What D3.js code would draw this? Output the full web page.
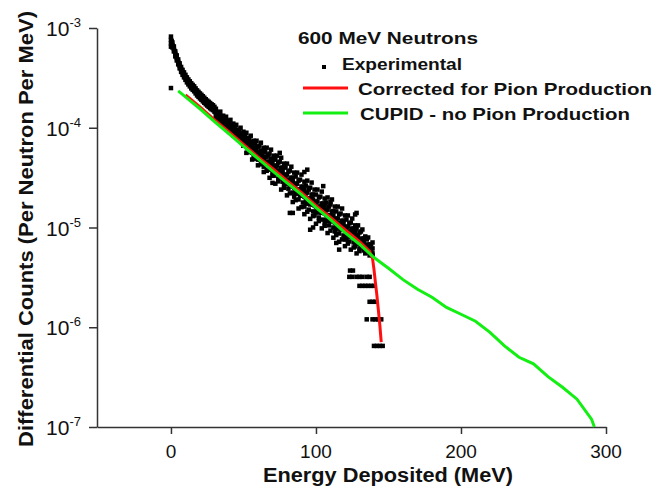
<!DOCTYPE html>
<html>
<head>
<meta charset="utf-8">
<script src="https://cdn.jsdelivr.net/npm/d3@7"></script>
<style>
  body { margin: 0; background: #fff; }
  text { font-family: "Liberation Sans", Arial, sans-serif; fill: #111; }
</style>
</head>
<body>
<svg id="chart" width="659" height="487"></svg>
<script>
// ---- data ----
// experimental, steep start: [energy, value, value, ...]
const expHead = [
  [0, 8.2e-4, 7.6e-4, 7.0e-4, 6.5e-4],
  [0.5, 7.41e-4, 7.0e-4, 6.61e-4], [1, 7.16e-4, 6.76e-4, 6.38e-4], [1.5, 6.46e-4],
  [2, 6.53e-4, 6.17e-4, 5.82e-4], [2.5, 5.89e-4], [3, 5.82e-4, 5.5e-4, 5.19e-4], [3.5, 5.25e-4],
  [4, 5.31e-4, 5.01e-4, 4.73e-4], [4.5, 4.79e-4], [5, 4.84e-4, 4.57e-4, 4.32e-4], [5.5, 4.37e-4],
  [6, 4.42e-4, 4.17e-4, 3.94e-4], [6.5, 3.98e-4], [7, 4.07e-4, 3.85e-4, 3.63e-4], [7.5, 3.72e-4],
  [8, 3.8e-4, 3.59e-4, 3.39e-4], [8.5, 3.47e-4], [9, 3.59e-4, 3.39e-4, 3.2e-4], [9.5, 3.31e-4],
  [10, 3.39e-4, 3.2e-4, 3.02e-4], [10.5, 3.09e-4], [11, 3.2e-4, 3.02e-4, 2.85e-4], [11.5, 2.95e-4],
  [12, 3.05e-4, 2.88e-4, 2.72e-4], [13, 2.92e-4, 2.75e-4, 2.6e-4], [14, 2.79e-4, 2.63e-4, 2.48e-4],
  [15, 2.69e-4, 2.54e-4, 2.4e-4], [16, 2.6e-4, 2.45e-4, 2.32e-4], [17, 2.48e-4, 2.34e-4, 2.21e-4],
  [18, 2.37e-4, 2.24e-4, 2.11e-4], [19, 2.29e-4, 2.16e-4, 2.04e-4], [20, 2.21e-4, 2.09e-4, 1.97e-4],
  [21, 2.14e-4, 2.02e-4, 1.91e-4], [22, 2.07e-4, 1.95e-4, 1.84e-4], [23, 2.0e-4, 1.88e-4, 1.78e-4],
  [24, 1.93e-4, 1.82e-4, 1.72e-4], [25, 1.87e-4, 1.77e-4, 1.67e-4], [26, 1.82e-4, 1.72e-4, 1.62e-4],
  [27, 1.77e-4, 1.67e-4, 1.57e-4], [28, 1.72e-4, 1.62e-4, 1.53e-4], [29, 1.68e-4, 1.58e-4, 1.5e-4],
  [30, 1.62e-4, 1.53e-4, 1.45e-4]
];

// experimental, scattered band
const expBand = [
  [31, 1.55e-4, 1.41e-4, 1.35e-4, 1.26e-4], [32, 1.41e-4, 1.35e-4, 1.26e-4, 1.23e-4],
  [33, 1.41e-4, 1.32e-4, 1.26e-4, 1.17e-4], [34, 1.45e-4, 1.32e-4, 1.23e-4, 1.15e-4],
  [35, 1.29e-4, 1.26e-4, 1.15e-4, 1.12e-4], [36, 1.32e-4, 1.17e-4, 1.07e-4, 1.07e-4],
  [37, 1.26e-4, 1.07e-4, 1.17e-4, 1.05e-4], [38, 1.29e-4, 1.15e-4, 1.05e-4, 1.02e-4],
  [39, 1.17e-4, 1.07e-4, 9.77e-5, 9.77e-5], [40, 1.17e-4, 1.05e-4, 1.0e-4, 9.55e-5],
  [41, 1.2e-4, 1.07e-4, 9.77e-5, 9.33e-5], [42, 1.05e-4, 1.0e-4, 8.91e-5, 9.12e-5],
  [43, 1.1e-4, 9.33e-5, 8.32e-5, 8.71e-5], [44, 1.02e-4, 8.51e-5, 9.55e-5, 8.91e-5],
  [45, 1.07e-4, 9.33e-5, 8.32e-5, 8.13e-5], [46, 9.55e-5, 8.71e-5, 7.76e-5, 7.94e-5],
  [47, 9.55e-5, 8.51e-5, 7.94e-5, 7.76e-5], [48, 1.0e-4, 8.71e-5, 7.94e-5, 7.59e-5],
  [49, 8.71e-5, 8.13e-5, 7.08e-5, 7.24e-5], [50, 9.12e-5, 7.59e-5, 6.61e-5, 7.08e-5],
  [51, 8.51e-5, 6.76e-5, 7.76e-5, 6.92e-5], [52, 8.91e-5, 7.59e-5, 6.61e-5, 7.08e-5],
  [53, 7.76e-5, 6.92e-5, 6.03e-5, 6.46e-5], [54, 7.94e-5, 6.92e-5, 6.31e-5, 6.03e-5],
  [55, 8.32e-5, 7.08e-5, 6.31e-5, 6.03e-5], [56, 7.08e-5, 6.61e-5, 5.62e-5, 5.89e-5],
  [57, 7.41e-5, 6.03e-5, 5.13e-5, 5.75e-5], [58, 6.92e-5, 5.37e-5, 6.31e-5, 5.62e-5],
  [59, 7.41e-5, 6.17e-5, 5.25e-5, 5.37e-5], [60, 6.46e-5, 5.62e-5, 4.79e-5, 5.25e-5],
  [61, 6.61e-5, 5.62e-5, 5.13e-5, 4.9e-5], [62, 7.08e-5, 5.89e-5, 5.01e-5, 5.37e-5],
  [63, 5.89e-5, 5.37e-5, 4.47e-5, 4.79e-5], [64, 6.31e-5, 4.9e-5, 4.07e-5, 4.68e-5],
  [65, 5.75e-5, 4.27e-5, 5.13e-5, 4.57e-5], [66, 6.31e-5, 5.13e-5, 4.27e-5, 4.47e-5],
  [67, 5.37e-5, 4.57e-5, 3.8e-5, 4.37e-5], [68, 5.5e-5, 4.57e-5, 4.17e-5, 3.98e-5],
  [69, 6.03e-5, 4.9e-5, 4.07e-5, 4.37e-5], [70, 4.9e-5, 4.47e-5, 3.55e-5, 3.98e-5],
  [71, 5.25e-5, 3.98e-5, 3.31e-5, 3.89e-5], [72, 4.79e-5, 3.47e-5, 4.17e-5, 3.8e-5],
  [73, 5.25e-5, 4.17e-5, 3.47e-5, 3.63e-5], [74, 4.47e-5, 3.72e-5, 3.09e-5, 3.55e-5],
  [75, 4.57e-5, 3.72e-5, 3.31e-5, 3.39e-5], [76, 5.01e-5, 3.98e-5, 3.31e-5, 3.55e-5],
  [77, 3.98e-5, 3.63e-5, 2.88e-5, 3.24e-5], [78, 4.37e-5, 3.24e-5, 2.63e-5, 3.16e-5],
  [79, 3.98e-5, 2.75e-5, 3.39e-5, 3.02e-5], [80, 4.37e-5, 3.39e-5, 2.75e-5, 2.95e-5],
  [81, 3.63e-5, 3.02e-5, 2.45e-5, 2.88e-5], [82, 3.72e-5, 3.02e-5, 2.63e-5, 2.75e-5],
  [83, 4.07e-5, 3.16e-5, 2.63e-5, 2.69e-5], [84, 3.16e-5, 2.88e-5, 2.24e-5, 2.57e-5],
  [85, 3.55e-5, 2.57e-5, 2.04e-5, 2.51e-5], [86, 3.24e-5, 2.19e-5, 2.75e-5, 2.45e-5],
  [87, 3.55e-5, 2.75e-5, 2.19e-5, 2.34e-5], [88, 2.95e-5, 2.4e-5, 1.91e-5, 2.29e-5],
  [89, 3.02e-5, 2.4e-5, 2.09e-5, 2.19e-5], [90, 3.39e-5, 2.57e-5, 2.09e-5, 2.14e-5],
  [91, 2.57e-5, 2.34e-5, 1.78e-5, 2.09e-5], [92, 2.88e-5, 2.04e-5, 1.62e-5, 2.4e-5],
  [93, 2.63e-5, 1.74e-5, 2.19e-5, 1.95e-5], [94, 2.95e-5, 2.24e-5, 1.74e-5, 1.91e-5],
  [95, 2.4e-5, 1.95e-5, 1.51e-5, 1.86e-5], [96, 2.51e-5, 1.95e-5, 1.7e-5, 1.82e-5],
  [97, 2.82e-5, 2.14e-5, 1.74e-5, 1.95e-5], [98, 2.14e-5, 1.91e-5, 1.45e-5, 1.7e-5],
  [99, 2.4e-5, 1.7e-5, 1.32e-5, 1.66e-5], [100, 2.14e-5, 1.41e-5, 1.82e-5, 1.62e-5],
  [101, 2.4e-5, 1.82e-5, 1.45e-5, 1.58e-5], [102, 2.0e-5, 1.62e-5, 1.26e-5, 1.55e-5],
  [103, 2.04e-5, 1.62e-5, 1.41e-5, 1.48e-5], [104, 2.29e-5, 1.74e-5, 1.41e-5, 1.55e-5],
  [105, 1.74e-5, 1.58e-5, 1.2e-5, 1.41e-5], [106, 1.95e-5, 1.38e-5, 1.1e-5, 1.66e-5],
  [107, 1.78e-5, 1.17e-5, 1.51e-5, 1.35e-5], [108, 2.0e-5, 1.51e-5, 1.17e-5, 1.29e-5],
  [109, 1.62e-5, 1.32e-5, 1.05e-5, 1.26e-5], [110, 1.7e-5, 1.32e-5, 1.15e-5, 1.23e-5],
  [111, 1.91e-5, 1.45e-5, 1.17e-5, 1.29e-5], [112, 1.45e-5, 1.32e-5, 1.0e-5, 1.17e-5],
  [113, 1.62e-5, 1.15e-5, 9.12e-6, 1.12e-5], [114, 1.45e-5, 9.77e-6, 1.23e-5, 1.1e-5],
  [115, 1.62e-5, 1.23e-5, 9.77e-6, 1.07e-5], [116, 1.35e-5, 1.1e-5, 8.71e-6, 1.05e-5],
  [117, 1.38e-5, 1.1e-5, 9.55e-6, 1.02e-5], [118, 1.55e-5, 1.17e-5, 9.77e-6, 1.05e-5],
  [119, 1.17e-5, 1.07e-5, 8.32e-6, 9.55e-6], [120, 1.32e-5, 9.55e-6, 7.59e-6, 9.33e-6],
  [121, 1.2e-5, 8.13e-6, 1.02e-5, 9.12e-6], [122, 1.32e-5, 1.02e-5, 8.13e-6, 8.91e-6],
  [123, 1.1e-5, 9.12e-6, 7.24e-6, 8.51e-6], [124, 1.12e-5, 9.12e-6, 8.13e-6, 8.32e-6],
  [125, 1.23e-5, 9.77e-6, 8.13e-6, 8.71e-6], [126, 9.77e-6, 8.91e-6, 7.08e-6, 7.94e-6],
  [127, 1.05e-5, 7.94e-6, 6.46e-6, 9.12e-6], [128, 9.77e-6, 6.92e-6, 8.32e-6, 7.59e-6],
  [129, 1.05e-5, 8.32e-6, 6.92e-6, 7.24e-6], [130, 8.91e-6, 7.59e-6, 6.17e-6, 7.08e-6],
  [131, 9.12e-6, 7.41e-6, 6.76e-6, 6.92e-6], [132, 9.55e-6, 7.76e-6, 6.76e-6, 6.61e-6],
  [133, 7.76e-6, 7.24e-6, 5.89e-6, 6.46e-6], [134, 8.13e-6, 6.46e-6, 5.5e-6, 6.17e-6],
  [135, 7.59e-6, 5.75e-6, 6.76e-6, 6.03e-6], [136, 7.94e-6, 6.61e-6, 5.75e-6, 5.89e-6],
  [137, 6.76e-6, 6.03e-6, 5.25e-6, 5.62e-6], [138, 6.76e-6, 6.03e-6, 5.5e-6, 5.75e-6],
  [139, 7.08e-6, 6.17e-6, 5.5e-6, 5.25e-6]
];

// experimental points on the low side of the band: [energy, value]
const expLower = [
  [50, 6.6e-5], [52, 5.6e-5], [54, 5.7e-5], [56, 4.8e-5], [58, 4.9e-5], [60, 4.2e-5], [62, 4.3e-5],
  [64, 3.6e-5], [66, 3.7e-5], [68, 3.15e-5], [70, 3.3e-5], [72, 2.75e-5], [74, 2.9e-5], [76, 2.4e-5],
  [78, 2.5e-5], [80, 2.1e-5], [82, 2.2e-5], [84, 1.8e-5], [86, 1.88e-5], [88, 1.55e-5], [90, 1.6e-5],
  [92, 1.36e-5], [94, 1.44e-5], [96, 1.22e-5], [98, 1.3e-5], [100, 1.09e-5], [102, 1.16e-5],
  [104, 9.8e-6], [106, 1.04e-5], [108, 8.8e-6], [110, 9.3e-6], [112, 7.9e-6], [114, 8.4e-6],
  [116, 7.2e-6], [118, 7.6e-6], [120, 6.5e-6], [122, 6.9e-6], [124, 6.0e-6], [126, 6.3e-6],
  [128, 5.5e-6], [130, 5.8e-6]
];

// isolated experimental points: [energy, value]
const expOutliers = [
  [0, 2.5e-4], [56, 7.2e-5], [70, 2.8e-5], [75, 5.6e-5], [82, 1.4e-5], [84, 1.4e-5],
  [92, 3.6e-5], [94, 3.8e-5], [96, 9.5e-6], [98, 1.0e-5], [105, 2.6e-5], [110, 1.8e-5],
  [114, 7.0e-6], [116, 6.0e-6], [121, 7.6e-6], [127, 1.35e-5], [128, 1.4e-5]
];

// low-count tail (count levels): [energy, value]
const expTail = [
  [123.5, 3.7e-6], [125.5, 3.7e-6],
  [123, 3.2e-6], [125, 3.2e-6], [128, 3.2e-6], [130, 3.2e-6], [132, 3.2e-6], [135, 3.2e-6], [137, 3.2e-6],
  [130, 2.6e-6], [132, 2.6e-6], [134, 2.6e-6], [136, 2.6e-6], [138, 2.6e-6], [140, 2.6e-6],
  [137, 1.8e-6], [139, 1.8e-6], [141, 1.8e-6],
  [135, 1.2e-6], [139, 1.2e-6], [141, 1.2e-6], [143, 1.2e-6], [145, 1.2e-6],
  [140, 6.5e-7], [142, 6.5e-7], [144, 6.5e-7], [146, 6.5e-7]
];

// Corrected for Pion Production (red)
const corrE = [10, 20, 30, 40, 50, 60, 70, 80, 90, 100, 110, 120, 130, 137, 139, 140, 141, 142, 143, 144, 145];
const corrV = [2.14e-4, 1.62e-4, 1.2e-4, 9.1e-5, 6.8e-5, 5.1e-5, 3.9e-5, 2.95e-5, 2.24e-5, 1.66e-5, 1.26e-5,
  9.5e-6, 7.2e-6, 5.75e-6, 4.9e-6, 3.8e-6, 2.8e-6, 2.1e-6, 1.5e-6, 1.07e-6, 7.1e-7];

// CUPID - no Pion Production (green)
const cupidE = [5, 10, 20, 30, 40, 50, 60, 70, 80, 90, 100, 110, 120, 130, 140, 150, 160, 170, 180, 190,
  200, 210, 220, 230, 240, 250, 260, 270, 280, 290, 292];
const cupidV = [2.34e-4, 2.04e-4, 1.55e-4, 1.15e-4, 8.7e-5, 6.5e-5, 4.9e-5, 3.7e-5, 2.8e-5, 2.14e-5, 1.58e-5,
  1.2e-5, 8.9e-6, 6.8e-6, 5.0e-6, 3.9e-6, 3.0e-6, 2.4e-6, 2.0e-6, 1.58e-6, 1.35e-6, 1.15e-6, 8.9e-7,
  6.5e-7, 5.0e-7, 4.3e-7, 3.2e-7, 2.5e-7, 1.9e-7, 1.2e-7, 1.0e-7];

const xTicks = [0, 100, 200, 300];
const xMinorTicks = [50, 150, 250];
const yExponents = [-3, -4, -5, -6, -7];

const legendTitle = "600 MeV Neutrons";
const legendLabels = ["Experimental", "Corrected for Pion Production", "CUPID - no Pion Production"];
const colors = { exp: "#000", corr: "#ff1010", cupid: "#13ee13" };

// ---- drawing ----
const svg = d3.select("#chart");

const x = d3.scaleLinear().domain([-51, 300]).range([97, 606]);
const y = d3.scaleLog().domain([1e-7, 1e-3]).range([427, 28]);

// axes
const yMajor = yExponents.map((e) => Math.pow(10, e));
const yMinor = y.ticks().filter((t) => !yMajor.some((m) => Math.abs(t / m - 1) < 1e-6));

const yAxisG = svg.append("g").attr("transform", "translate(97,0)");
yAxisG.call(d3.axisLeft(y).tickValues(yMinor).tickSize(4).tickSizeOuter(0).tickFormat(""));
yAxisG.call(d3.axisLeft(y).tickValues(yMajor).tickSize(8).tickSizeOuter(0).tickFormat(""));

const xAxisG = svg.append("g").attr("transform", "translate(0,427)");
xAxisG.call(d3.axisBottom(x).tickValues(xMinorTicks).tickSize(4).tickSizeOuter(0).tickFormat(""));
xAxisG.call(d3.axisBottom(x).tickValues(xTicks).tickSize(7).tickSizeOuter(0).tickFormat(""));

svg.selectAll(".domain, .tick line").attr("stroke", "#333").attr("stroke-width", 1.5);

// tick labels
svg.append("g").selectAll("text").data(xTicks).join("text")
  .attr("x", (d) => x(d))
  .attr("y", 458)
  .attr("text-anchor", "middle")
  .attr("font-size", 19)
  .text((d) => d);

const yLab = svg.append("g").selectAll("text").data(yExponents).join("text")
  .attr("x", 81)
  .attr("y", (d) => y(Math.pow(10, d)) + 8)
  .attr("text-anchor", "end")
  .attr("font-size", 21);
yLab.append("tspan").text("10");
yLab.append("tspan").attr("font-size", 13).attr("dy", -9).text((d) => "-" + Math.abs(d));

// axis titles
svg.append("text")
  .attr("x", 388)
  .attr("y", 482)
  .attr("text-anchor", "middle")
  .attr("font-size", 20)
  .attr("font-weight", "bold")
  .attr("textLength", 250)
  .attr("lengthAdjust", "spacingAndGlyphs")
  .text("Energy Deposited (MeV)");

svg.append("text")
  .attr("transform", "translate(33,229) rotate(-90)")
  .attr("text-anchor", "middle")
  .attr("font-size", 21)
  .attr("font-weight", "bold")
  .attr("textLength", 436)
  .attr("lengthAdjust", "spacingAndGlyphs")
  .text("Differential Counts (Per Neutron Per MeV)");

// experimental points
const expPoints = [];
expHead.concat(expBand).forEach((r) => r.slice(1).forEach((v) => expPoints.push([r[0], v])));
expLower.concat(expOutliers, expTail).forEach((p) => expPoints.push(p));

const ms = 4.5;
svg.append("g").selectAll("rect").data(expPoints).join("rect")
  .attr("x", (d) => x(d[0]) - ms / 2)
  .attr("y", (d) => y(d[1]) - ms / 2)
  .attr("width", ms)
  .attr("height", ms)
  .attr("fill", colors.exp);

// model lines
const line = d3.line().x((d) => x(d[0])).y((d) => y(d[1]));

svg.append("path")
  .datum(corrE.map((e, i) => [e, corrV[i]]))
  .attr("d", line)
  .attr("fill", "none")
  .attr("stroke", colors.corr)
  .attr("stroke-width", 3);

svg.append("path")
  .datum(cupidE.map((e, i) => [e, cupidV[i]]))
  .attr("d", line)
  .attr("fill", "none")
  .attr("stroke", colors.cupid)
  .attr("stroke-width", 3);

// legend
const legend = svg.append("g").attr("font-weight", "bold");
legend.append("text").attr("x", 298).attr("y", 44).attr("font-size", 17)
  .attr("textLength", 180).attr("lengthAdjust", "spacingAndGlyphs").text(legendTitle);

legend.append("rect").attr("x", 322).attr("y", 65).attr("width", 4).attr("height", 4).attr("fill", colors.exp);
legend.append("line").attr("x1", 303).attr("x2", 348).attr("y1", 88).attr("y2", 88)
  .attr("stroke", colors.corr).attr("stroke-width", 3);
legend.append("line").attr("x1", 303).attr("x2", 348).attr("y1", 113).attr("y2", 113)
  .attr("stroke", colors.cupid).attr("stroke-width", 3);

const legendPos = [[342, 70, 120], [358, 95, 294], [360, 120, 270]];
legend.selectAll("text.item").data(legendLabels).join("text")
  .attr("class", "item")
  .attr("x", (d, i) => legendPos[i][0])
  .attr("y", (d, i) => legendPos[i][1])
  .attr("font-size", 17)
  .attr("textLength", (d, i) => legendPos[i][2])
  .attr("lengthAdjust", "spacingAndGlyphs")
  .text((d) => d);
</script>
</body>
</html>
